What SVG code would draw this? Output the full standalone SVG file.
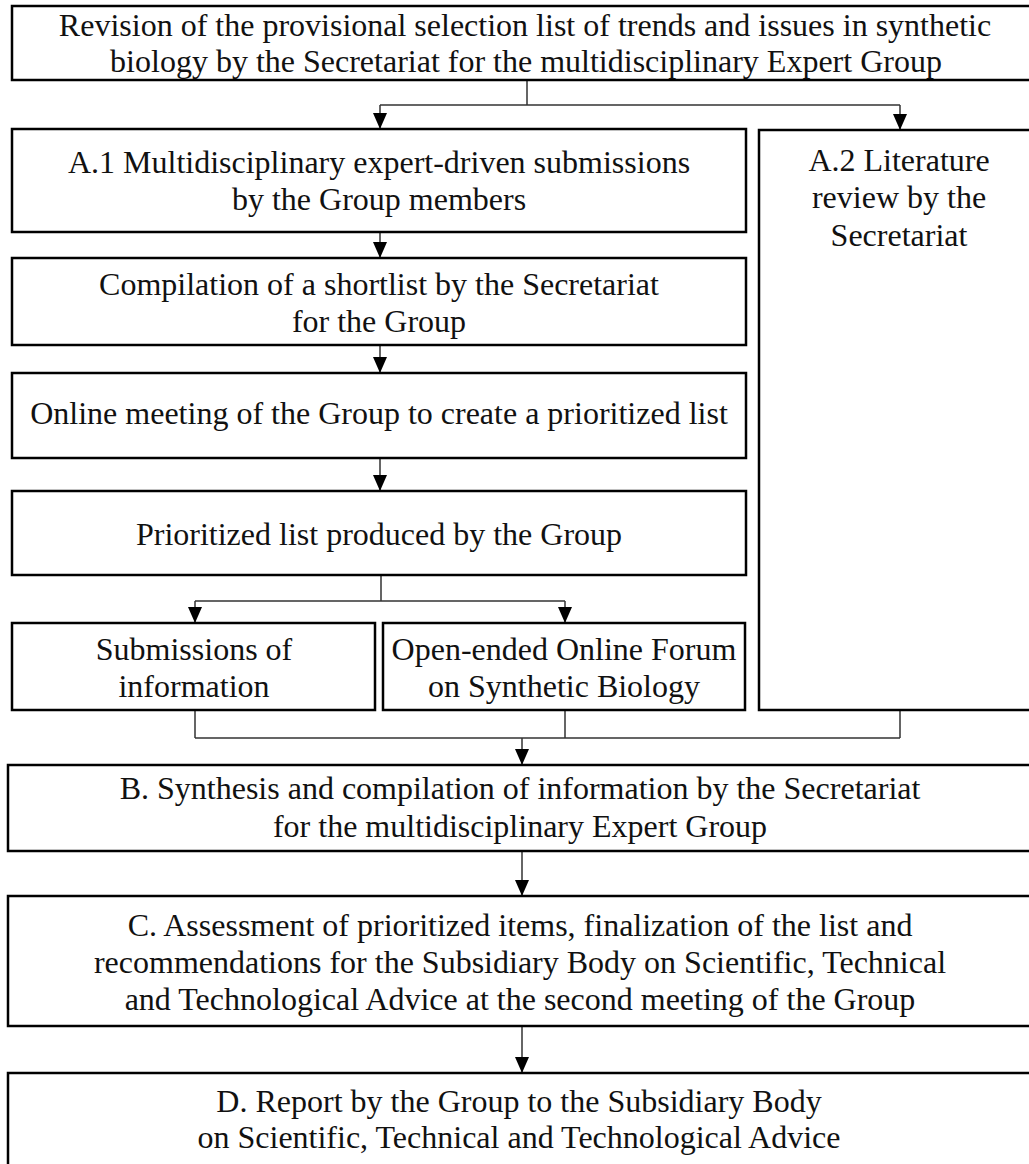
<svg xmlns="http://www.w3.org/2000/svg" width="1029" height="1164" viewBox="0 0 1029 1164">
<style>
  .box { fill: #ffffff; stroke: #000000; stroke-width: 2.5; }
  .t { font-family: 'Liberation Serif', 'Times New Roman', serif; font-size: 32px; fill: #111111; text-anchor: middle; }
  .c { fill: none; stroke: #333333; stroke-width: 1.5; }
</style>
<defs>
  <marker id="arr" markerUnits="userSpaceOnUse" markerWidth="16" markerHeight="14" viewBox="0 0 16 14" refX="16" refY="7" orient="auto">
    <path d="M0,0 L16,7 L0,14 Z" fill="#000000"/>
  </marker>
</defs>
<rect width="1029" height="1164" fill="#ffffff"/>

<g id="connectors">
  <path class="c" d="M527,80 V105 M380,105 H900"/>
  <path class="c" d="M380,105 V129" marker-end="url(#arr)"/>
  <path class="c" d="M900,105 V130" marker-end="url(#arr)"/>
  <path class="c" d="M380,232 V258" marker-end="url(#arr)"/>
  <path class="c" d="M380,345 V373" marker-end="url(#arr)"/>
  <path class="c" d="M380,458 V491" marker-end="url(#arr)"/>
  <path class="c" d="M381,575 V601 M195,601 H565"/>
  <path class="c" d="M195,601 V623" marker-end="url(#arr)"/>
  <path class="c" d="M565,601 V623" marker-end="url(#arr)"/>
  <path class="c" d="M195,710 V738 M565,710 V738 M900,710 V738 M195,738 H900"/>
  <path class="c" d="M522,738 V765" marker-end="url(#arr)"/>
  <path class="c" d="M522,851 V896" marker-end="url(#arr)"/>
  <path class="c" d="M522,1026 V1073" marker-end="url(#arr)"/>
</g>

<g id="node-top">
  <rect class="box" x="12" y="6" width="1030" height="74"/>
  <text class="t" x="525" y="36">Revision of the provisional selection list of trends and issues in synthetic</text>
  <text class="t" x="526" y="72">biology by the Secretariat for the multidisciplinary Expert Group</text>
</g>

<g id="node-a1">
  <rect class="box" x="12" y="129" width="734" height="103"/>
  <text class="t" x="379" y="173">A.1 Multidisciplinary expert-driven submissions</text>
  <text class="t" x="379" y="210">by the Group members</text>
</g>

<g id="node-a2">
  <rect class="box" x="759" y="130" width="290" height="580"/>
  <text class="t" x="899" y="171">A.2 Literature</text>
  <text class="t" x="899" y="208">review by the</text>
  <text class="t" x="899" y="246">Secretariat</text>
</g>

<g id="node-compilation">
  <rect class="box" x="12" y="258" width="734" height="87"/>
  <text class="t" x="379" y="295">Compilation of a shortlist by the Secretariat</text>
  <text class="t" x="379" y="332">for the Group</text>
</g>

<g id="node-online">
  <rect class="box" x="12" y="373" width="734" height="85"/>
  <text class="t" x="379" y="424">Online meeting of the Group to create a prioritized list</text>
</g>

<g id="node-prioritized">
  <rect class="box" x="12" y="491" width="734" height="84"/>
  <text class="t" x="379" y="545">Prioritized list produced by the Group</text>
</g>

<g id="node-submissions">
  <rect class="box" x="12" y="623" width="363" height="87"/>
  <text class="t" x="194" y="660">Submissions of</text>
  <text class="t" x="194" y="697">information</text>
</g>

<g id="node-forum">
  <rect class="box" x="383" y="623" width="362" height="87"/>
  <text class="t" x="564" y="660">Open-ended Online Forum</text>
  <text class="t" x="564" y="697">on Synthetic Biology</text>
</g>

<g id="node-b">
  <rect class="box" x="8" y="765" width="1040" height="86"/>
  <text class="t" x="520" y="799">B. Synthesis and compilation of information by the Secretariat</text>
  <text class="t" x="520" y="837">for the multidisciplinary Expert Group</text>
</g>

<g id="node-c">
  <rect class="box" x="8" y="896" width="1040" height="130"/>
  <text class="t" x="520" y="936">C. Assessment of prioritized items, finalization of the list and</text>
  <text class="t" x="520" y="973">recommendations for the Subsidiary Body on Scientific, Technical</text>
  <text class="t" x="520" y="1010">and Technological Advice at the second meeting of the Group</text>
</g>

<g id="node-d">
  <rect class="box" x="8" y="1073" width="1040" height="110"/>
  <text class="t" x="519" y="1112">D. Report by the Group to the Subsidiary Body</text>
  <text class="t" x="519" y="1148">on Scientific, Technical and Technological Advice</text>
</g>
</svg>
